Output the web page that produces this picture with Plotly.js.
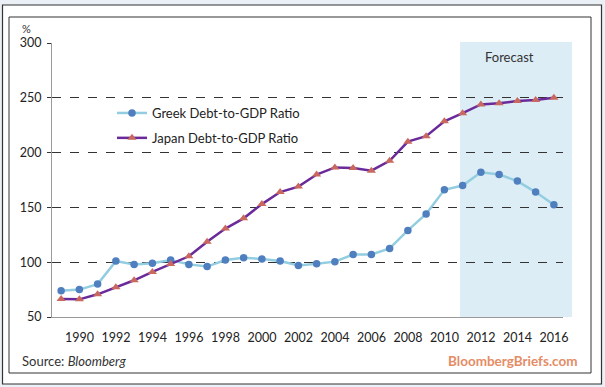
<!DOCTYPE html>
<html>
<head>
<meta charset="utf-8">
<script src="https://cdn.plot.ly/plotly-3.0.1.min.js"></script>
<style>html,body{margin:0;padding:0;background:#eaf0f6;}#chart{width:605px;height:387px;}</style>
</head>
<body>
<div id="chart"></div>
<script>
var years = [1989,1990,1991,1992,1993,1994,1995,1996,1997,1998,1999,2000,2001,2002,2003,2004,2005,2006,2007,2008,2009,2010,2011,2012,2013,2014,2015,2016];
var greek = [74,75,80,101,98,99,102,98,96,102,104,103,101,97,98.5,100.5,107,107,112.5,129,144,166,170,182,180,174,164,152.5];
var japan = [66.4,66.1,70.7,77.1,83.5,91.1,98.4,105.4,118.6,130.7,140,153,164,169,180,186.5,186,183.5,192.5,210,215,228.5,236,244,245,247,248,250];
var xTicks = [1990,1992,1994,1996,1998,2000,2002,2004,2006,2008,2010,2012,2014,2016];
var xTickLabels = ['1990','1992','1994','1996','1998','2000','2002','2004','2006','2008','2010','2012','2014','2016'];
var yTicks = [50,100,150,200,250,300];
var seriesNames = ['Greek Debt-to-GDP Ratio','Japan Debt-to-GDP Ratio'];

var W = 605, H = 387, L = 52, R = 42, T = 43, B = 70;
var pw = W - L - R, ph = H - T - B;
function px(x){ return (x - L) / pw; }
function py(y){ return (H - B - y) / ph; }

var font = 'Lato, "Open Sans", sans-serif';

var traces = [
  {x: years, y: greek, name: seriesNames[0], type: 'scatter', mode: 'lines+markers', legendgroup: 'a',
   line: {color: '#93cde0', width: 2.5}, marker: {symbol: 'circle', size: 7.5, color: '#4f7fbf'}},
  {x: years, y: japan, name: seriesNames[1], type: 'scatter', mode: 'lines+markers', legendgroup: 'b',
   line: {color: '#6a2a9a', width: 2.5}, marker: {symbol: 'triangle-up', size: 8, color: '#c9685e'}}
];

var layout = {
  width: W, height: H,
  margin: {l: L, r: R, t: T, b: B, pad: 0},
  paper_bgcolor: '#eaf0f6',
  plot_bgcolor: 'rgba(0,0,0,0)',
  font: {family: font, size: 12.5, color: '#333'},
  showlegend: true,
  legend: {x: px(112), y: py(98), xanchor: 'left', yanchor: 'top', bgcolor: 'rgba(0,0,0,0)',
           font: {family: font, size: 13, color: '#222'}, tracegroupgap: 5, itemwidth: 30},
  xaxis: {range: [1988.5, 2016.5], tickvals: xTicks, ticktext: xTickLabels, showgrid: false, zeroline: false,
          showline: true, linecolor: '#999', linewidth: 1, ticks: '', fixedrange: true, ticklabelstandoff: 9,
          tickfont: {family: font, size: 12.5, color: '#222'}},
  yaxis: {range: [50, 300], tickvals: yTicks, showgrid: true, gridcolor: '#333', griddash: 'dash', gridwidth: 1,
          zeroline: false, showline: true, linecolor: '#999', linewidth: 1, ticks: 'outside', ticklen: 4,
          tickcolor: '#333', ticklabelstandoff: 3, tickfont: {family: font, size: 12.5, color: '#222'}},
  shapes: [
    {type: 'rect', xref: 'paper', yref: 'paper', x0: px(2.5), x1: px(601.5), y0: py(384), y1: py(5),
     line: {color: '#333', width: 1.2}, fillcolor: '#ffffff', layer: 'below'},
    {type: 'rect', xref: 'paper', yref: 'paper', x0: px(9), x1: px(591), y0: py(373), y1: py(17),
     line: {color: '#333', width: 1}, fillcolor: 'rgba(0,0,0,0)', layer: 'below'},
    {type: 'rect', xref: 'paper', yref: 'paper', x0: px(460), x1: px(572), y0: 0, y1: py(42),
     line: {width: 0}, fillcolor: '#ddedf6', layer: 'below'}
  ],
  annotations: [
    {text: 'Forecast', xref: 'paper', yref: 'paper', x: px(509), y: py(57), xanchor: 'center', yanchor: 'middle', showarrow: false,
     font: {family: font, size: 13, color: '#333'}},
    {text: '%', xref: 'paper', yref: 'paper', x: px(20), y: py(29), xanchor: 'left', yanchor: 'middle', showarrow: false,
     font: {family: font, size: 11, color: '#333'}},
    {text: 'Source: <i>Bloomberg</i>', xref: 'paper', yref: 'paper', x: px(20), y: py(361), xanchor: 'left', yanchor: 'middle', showarrow: false,
     font: {family: font, size: 13, color: '#333'}},
    {text: '<b>BloombergBriefs.com</b>', xref: 'paper', yref: 'paper', x: px(580), y: py(361), xanchor: 'right', yanchor: 'middle', showarrow: false,
     font: {family: font, size: 13.5, color: '#e58c66'}}
  ]
};

Plotly.newPlot('chart', traces, layout, {displayModeBar: false, staticPlot: true});
</script>
</body>
</html>
